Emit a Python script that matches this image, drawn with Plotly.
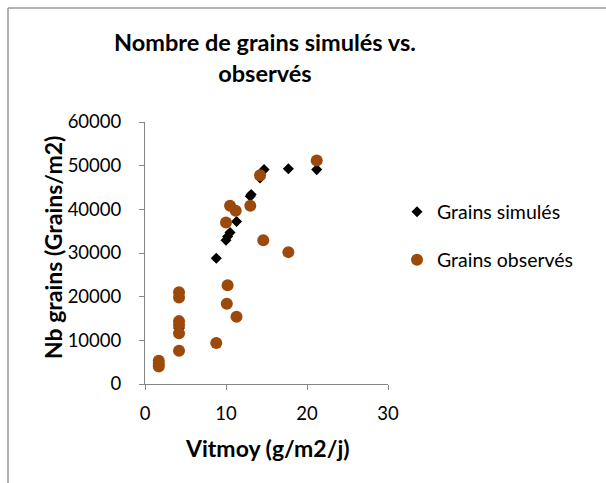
import plotly.graph_objects as go

# Vitmoy (g/m2/j) and grain counts (grains/m2)
x_sim = [1.7, 1.7, 4.2, 4.2, 4.2, 4.2, 8.8, 10.0, 10.2, 10.5, 11.3, 13.0, 13.1, 14.2, 14.7, 17.7, 21.2]
y_sim = [4600, 4600, 12800, 12800, 12800, 12800, 28800, 32900, 33800, 34700, 37200, 43000, 43400, 47200, 49100, 49300, 49100]

x_obs = [1.7, 1.7, 1.7, 4.2, 4.2, 4.2, 4.2, 4.2, 4.2, 8.8, 10.0, 10.1, 10.2, 10.5, 11.2, 11.3, 13.0, 14.2, 14.6, 17.7, 21.2]
y_obs = [4000, 4600, 5300, 7600, 11600, 13500, 14400, 19800, 21000, 9400, 37000, 18400, 22600, 40800, 39700, 15400, 40800, 47800, 32900, 30200, 51200]

x_ticks = [0, 10, 20, 30]
y_ticks = [0, 10000, 20000, 30000, 40000, 50000, 60000]

FONT = "Lato"
AXIS_GREY = "#868686"
BROWN = "#9C4A0B"

W, H = 606, 483
L, R, T, B = 145, 218, 122, 99
pw, ph = W - L - R, H - T - B


def px_x(p):
    return (p - L) / pw


def px_y(p):
    return (H - B - p) / ph


fig = go.Figure()
fig.add_trace(go.Scatter(
    x=x_sim, y=y_sim, mode="markers", name="Grains simulés",
    marker=dict(symbol="diamond", size=8.5, color="black"),
    legend="legend", showlegend=True,
))
fig.add_trace(go.Scatter(
    x=x_obs, y=y_obs, mode="markers", name="Grains observés",
    marker=dict(symbol="circle", size=12, color=BROWN),
    legend="legend2", showlegend=True,
))

axis_common = dict(
    showgrid=False, zeroline=False, showline=True, linecolor=AXIS_GREY,
    linewidth=1, ticks="outside", ticklen=5, tickcolor=AXIS_GREY,
    tickfont=dict(family=FONT, size=18.5, color="black"),
)
fig.update_xaxes(range=[0, 30], tickvals=x_ticks, ticklabelstandoff=8, **axis_common)
fig.update_yaxes(range=[0, 60000], tickvals=y_ticks, tickformat="d",
                 ticklabelstandoff=14, **axis_common)

legend_common = dict(
    font=dict(family=FONT, size=19.5, color="black"),
    bgcolor="rgba(0,0,0,0)", xanchor="left", yanchor="middle",
    x=px_x(397),
)

fig.update_layout(
    width=W, height=H,
    showlegend=True,
    margin=dict(l=L, r=R, t=T, b=B, pad=0),
    paper_bgcolor="white", plot_bgcolor="white",
    legend=dict(y=px_y(212), **legend_common),
    legend2=dict(y=px_y(260), **legend_common),
    annotations=[
        dict(text="Nombre de grains simulés vs.<br>observés", xref="paper", yref="paper",
             x=px_x(265), y=px_y(57), xanchor="center", yanchor="middle",
             showarrow=False, font=dict(family=FONT, size=23.5, color="black", weight="bold")),
        dict(text="Vitmoy (g/m2/j)", xref="paper", yref="paper",
             x=px_x(267), y=px_y(448), xanchor="center", yanchor="middle",
             showarrow=False, font=dict(family=FONT, size=23, color="black", weight="bold")),
        dict(text="Nb grains (Grains/m2)", xref="paper", yref="paper",
             x=px_x(53), y=px_y(248), xanchor="center", yanchor="middle", textangle=-90,
             showarrow=False, font=dict(family=FONT, size=23, color="black", weight="bold")),
    ],
    shapes=[
        dict(type="line", xref="paper", yref="paper", x0=px_x(8), x1=px_x(8),
             y0=px_y(8), y1=px_y(H + 5), line=dict(color="#9A9A9A", width=1.5)),
        dict(type="line", xref="paper", yref="paper", x0=px_x(8), x1=px_x(W + 5),
             y0=px_y(8), y1=px_y(8), line=dict(color="#9A9A9A", width=1.5)),
    ],
)

fig.write_html("out.html")
